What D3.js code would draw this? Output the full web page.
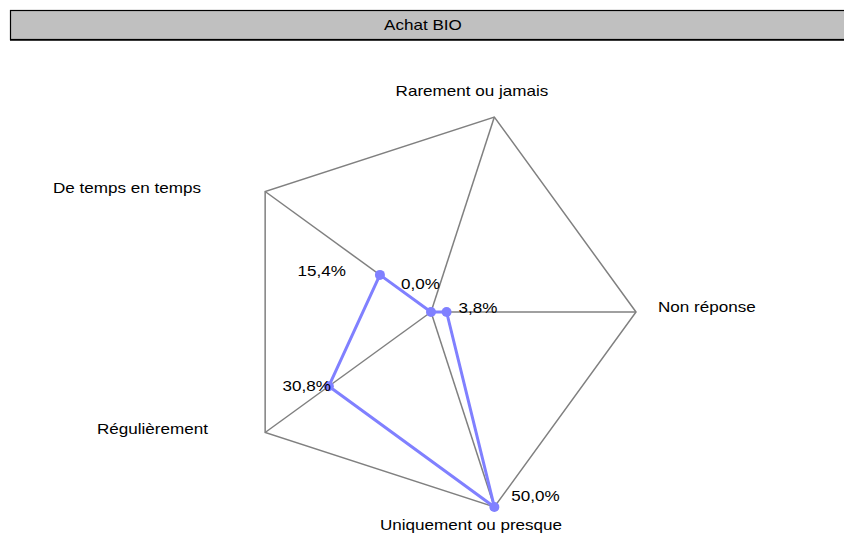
<!DOCTYPE html>
<html><head><meta charset="utf-8">
<script src="https://cdn.jsdelivr.net/npm/d3@7"></script>
<style>body{margin:0;background:#fff}svg{display:block}text{font-family:"Liberation Sans",Arial,sans-serif}</style>
</head><body>
<script>
const title = "Achat BIO";
const categories = ["Non réponse","Rarement ou jamais","De temps en temps","Régulièrement","Uniquement ou presque"];
const values = [3.8, 0.0, 15.4, 30.8, 50.0];
const valueLabels = ["3,8%","0,0%","15,4%","30,8%","50,0%"];
const maxValue = 50;

const W=844,H=533, SX=1.22;
const svg=d3.select("body").append("svg").attr("width",W).attr("height",H);
function txt(x,y,s,anchor){
  return svg.append("text").attr("transform",`translate(${x},${y}) scale(${SX},1)`)
    .attr("text-anchor",anchor).attr("font-size",14).attr("fill","#000").text(s);
}
// title bar
svg.append("rect").attr("x",10.5).attr("y",10.5).attr("width",W).attr("height",29)
  .attr("fill","#c0c0c0").attr("stroke","#000").attr("stroke-width",1.2);
svg.append("line").attr("x1",10).attr("x2",W).attr("y1",40).attr("y2",40).attr("stroke","#000").attr("stroke-width",1.5);
txt(423,30,title,"middle");

const cx=431, cy=312, R=205;
const r=d3.scaleLinear().domain([0,maxValue]).range([0,R]);
const ang=i=>-i*2*Math.PI/categories.length;
const pt=(i,v)=>[cx+r(v)*Math.cos(ang(i)), cy+r(v)*Math.sin(ang(i))];

const g=svg.append("g");
g.append("path").attr("d",d3.line()(categories.map((c,i)=>pt(i,maxValue)))+"Z")
  .attr("fill","none").attr("stroke","#808080").attr("stroke-width",1.5);
categories.forEach((c,i)=>{
  const p=pt(i,maxValue);
  g.append("line").attr("x1",cx).attr("y1",cy).attr("x2",p[0]).attr("y2",p[1])
   .attr("stroke","#808080").attr("stroke-width",1.5);
});
const labPos=[
  {x:658,y:312,a:"start"},
  {x:472,y:96,a:"middle"},
  {x:201,y:193,a:"end"},
  {x:208,y:434,a:"end"},
  {x:471,y:530,a:"middle"}
];
categories.forEach((c,i)=>txt(labPos[i].x,labPos[i].y,c,labPos[i].a));

g.append("path").attr("d",d3.line()(values.map((v,i)=>pt(i,v)))+"Z")
  .attr("fill","none").attr("stroke","#8080ff").attr("stroke-width",3).attr("stroke-linejoin","round");
values.forEach((v,i)=>{
  const p=pt(i,v);
  g.append("circle").attr("cx",p[0]).attr("cy",p[1]).attr("r",5).attr("fill","#8080ff");
});
const vOff=[{dx:12,dy:1,a:"start"},{dx:9,dy:-23,a:"end"},{dx:-34,dy:1,a:"end"},{dx:2,dy:5,a:"end"},{dx:17,dy:-6,a:"start"}];
values.forEach((v,i)=>{
  const p=pt(i,v);
  txt(p[0]+vOff[i].dx,p[1]+vOff[i].dy,valueLabels[i],vOff[i].a);
});
</script>
</body></html>
